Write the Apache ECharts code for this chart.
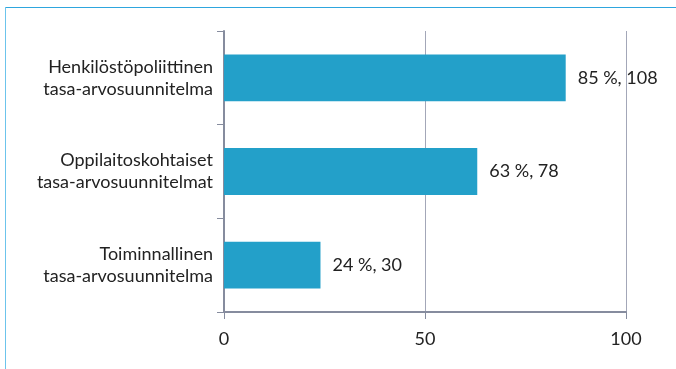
<!DOCTYPE html>
<html>
<head>
<meta charset="utf-8">
<style>
  html, body { margin: 0; padding: 0; background: #ffffff; }
  #chart { width: 676px; height: 369px; }
</style>
<script src="https://cdn.jsdelivr.net/npm/echarts@6/dist/echarts.min.js"></script>
</head>
<body>
<div id="chart"></div>
<script>
// Tasa-arvosuunnitelmat: osuus (%) ja lukumäärä
const categories = [
  'Toiminnallinen\ntasa-arvosuunnitelma',
  'Oppilaitoskohtaiset\ntasa-arvosuunnitelmat',
  'Henkilöstöpoliittinen\ntasa-arvosuunnitelma'
];
const percentages = [24, 63, 85];
const counts = [30, 78, 108];
const axisTicks = [0, 50, 100];

const FONT = 'Lato';
const TEXT = '#222222';
const AXIS = '#868c9e';
const GRID = '#a3a7b8';

const chart = echarts.init(document.getElementById('chart'), null, { renderer: 'canvas' });

chart.setOption({
  animation: false,
  backgroundColor: '#ffffff',
  graphic: [
    // frame around the chart area (top and left edges)
    { type: 'rect', shape: { x: 5, y: 7, width: 680, height: 1 }, style: { fill: '#2ea6de' } },
    { type: 'rect', shape: { x: 5, y: 7, width: 1, height: 370 }, style: { fill: '#6cc4ec' } }
  ],
  grid: { left: 224, right: 50, top: 31, bottom: 57, containLabel: false },
  xAxis: {
    type: 'value',
    min: axisTicks[0],
    max: axisTicks[axisTicks.length - 1],
    interval: axisTicks[1] - axisTicks[0],
    axisLine: { show: true, lineStyle: { color: AXIS, width: 2 } },
    axisTick: { show: true, length: 7, lineStyle: { color: AXIS, width: 1 } },
    axisLabel: { color: TEXT, fontFamily: FONT, fontSize: 18, margin: 18 },
    splitLine: { show: true, lineStyle: { color: GRID, width: 1 } }
  },
  yAxis: {
    type: 'category',
    data: categories,
    axisLine: { show: true, lineStyle: { color: AXIS, width: 2 } },
    axisTick: { show: true, length: 7, lineStyle: { color: AXIS, width: 1 } },
    axisLabel: { color: TEXT, fontFamily: FONT, fontSize: 18, lineHeight: 22, margin: 11, align: 'right' }
  },
  series: [{
    type: 'bar',
    data: percentages,
    barCategoryGap: '50%',
    itemStyle: { color: '#23a0c9' },
    label: {
      show: true,
      position: 'right',
      distance: 12,
      color: TEXT,
      fontFamily: FONT,
      fontSize: 18,
      formatter: p => percentages[p.dataIndex] + ' %, ' + counts[p.dataIndex]
    }
  }]
});
</script>
</body>
</html>
